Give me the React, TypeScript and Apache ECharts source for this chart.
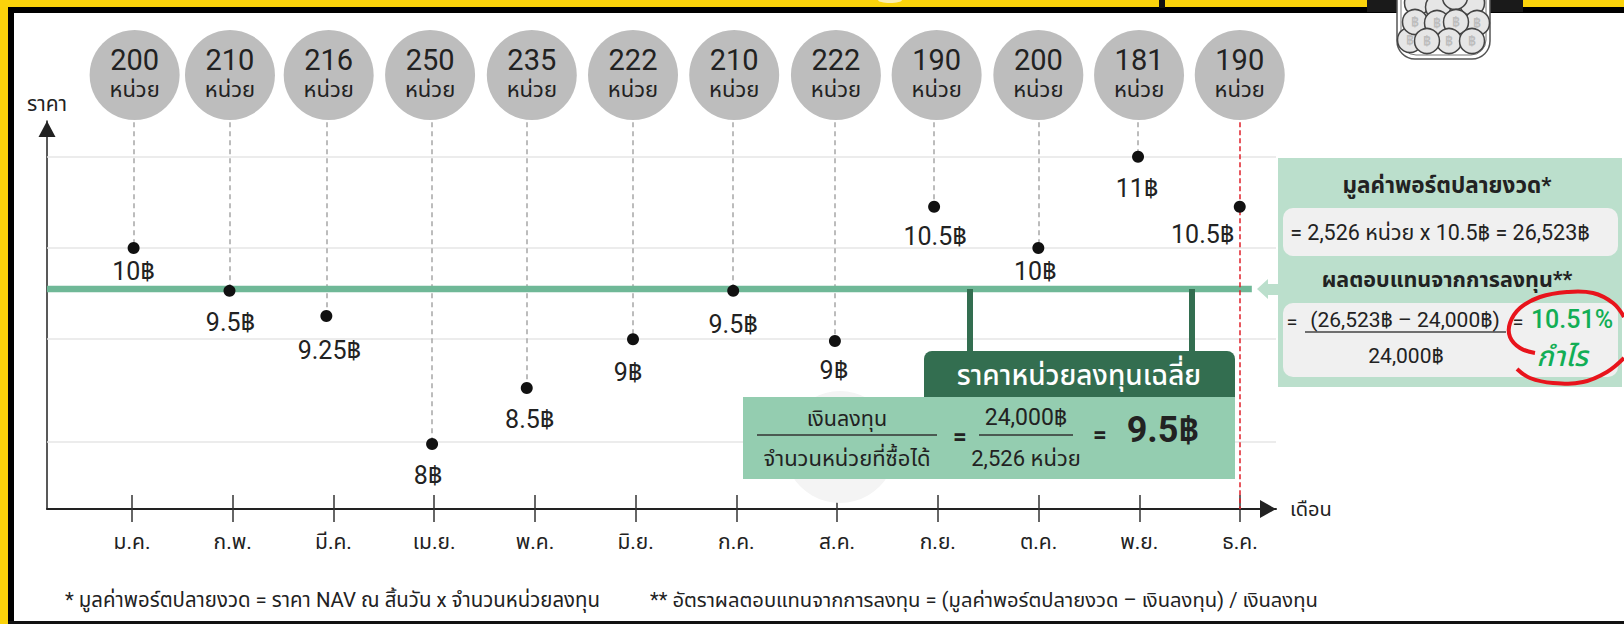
import React, { useEffect, useRef } from "react";
import * as echarts from "echarts";

const months = ["ม.ค.", "ก.พ.", "มี.ค.", "เม.ย.", "พ.ค.", "มิ.ย.", "ก.ค.", "ส.ค.", "ก.ย.", "ต.ค.", "พ.ย.", "ธ.ค."];
const units = [200, 210, 216, 250, 235, 222, 210, 222, 190, 200, 181, 190];
const priceLabels = ["10฿", "9.5฿", "9.25฿", "8฿", "8.5฿", "9฿", "9.5฿", "9฿", "10.5฿", "10฿", "11฿", "10.5฿"];
// Month position and height of each dot as drawn in the picture (its price scale is not quite even).
const dotMonth = [0.016, 0.968, 1.93, 2.98, 3.92, 4.975, 5.97, 6.98, 7.965, 9.0, 9.99, 11.0];
const dotLevel = [10, 9.53, 9.254, 7.85, 8.465, 9.0, 9.53, 8.98, 10.453, 10, 11, 10.453];
const bubbleMonth = [0.026, 0.973, 1.953, 2.96, 3.97, 4.975, 5.98, 6.99, 7.99, 9.0, 10.0, 11.0];
const gridLevels = [11, 10, 9, 7.876];
const averageLevel = 9.55;

const FONT = 'Roboto, "Noto Sans", "Noto Sans Thai", sans-serif';
const X_MIN = -0.844, X_MAX = 11.36, Y_MIN = 7.138, Y_MAX = 11.3925;
const BUBBLE_LEVEL = 11.897, DASH_TOP = 11.38, AVG_END = 11.12;
const labelOffsets = [[0, 24], [1, 32], [3, 34], [-4, 31], [3, 32], [-5, 33], [0, 34], [-1, 29], [1, 30], [-3, 24], [-1, 32], [-37, 28]];
const coins = [[1410, 40], [1417, 3], [1438, 7], [1472, 3], [1455, -3], [1415, 22], [1437, 23], [1477, 23], [1456, 22], [1449, 41], [1472, 41], [1427, 41]];

const txt = (text: string, x: number, y: number, size: number, opts: any = {}) => ({
  type: "text", z: 14, x, y,
  style: {
    text, fill: opts.fill || "#222",
    font: `${opts.style || "normal"} ${opts.weight || "normal"} ${size}px ${FONT}`,
    textAlign: opts.align || "center", textVerticalAlign: "middle",
  },
});
const rect = (x: number, y: number, width: number, height: number, fill: string, z = 10, r: any = 0) => ({
  type: "rect", z, shape: { x, y, width, height, r }, style: { fill },
});
const hline = (x1: number, x2: number, y: number, stroke: string, lineWidth = 1.6) => ({
  type: "line", z: 13, shape: { x1, y1: y, x2, y2: y }, style: { stroke, lineWidth },
});

export default function App() {
  const ref = useRef<HTMLDivElement>(null);
  useEffect(() => {
    document.body.style.margin = "0";
    const chart = echarts.init(ref.current!, null, { renderer: "svg" });
    const graphic: any[] = [
      // frame
      rect(0, 0, 1624, 7, "#fbd30b", 20),
      rect(0, 7, 1624, 6, "#000", 20),
      rect(0, 0, 8, 624, "#fbd30b", 20),
      rect(8, 7, 6, 617, "#000", 20),
      rect(8, 621, 1616, 3, "#111", 20),
      rect(1159, 0, 6, 8, "#111", 21),
      rect(1367, 0, 156, 12, "#1a1a1a", 21),
      { type: "ellipse", z: 21, shape: { cx: 890, cy: 0, rx: 12, ry: 3 }, style: { fill: "#fbeeb0" } },
      // jar
      { type: "rect", z: 22, shape: { x: 1397, y: -30, width: 93, height: 89, r: 18 }, style: { fill: "#fff", stroke: "#555", lineWidth: 1.5 } },
      { type: "rect", z: 22, shape: { x: 1401, y: -30, width: 85, height: 85, r: 15 }, style: { fill: "#fff", stroke: "#777", lineWidth: 1 } },
      ...coins.map(([cx, cy]) => ({ type: "circle", z: 23, shape: { cx, cy, r: 12.5 }, style: { fill: "#e6e6e6", stroke: "#444", lineWidth: 1.5 } })),
      ...coins.filter(([, y]) => y > 10).map(([x, y]) => ({ type: "text", z: 23, x, y, style: { text: "฿", fill: "#bdbdbd", font: `bold 14px ${FONT}`, textAlign: "center", textVerticalAlign: "middle" } })),
      // average price box
      { type: "circle", z: 1, shape: { cx: 840, cy: 447, r: 56 }, style: { fill: "#f4f4f4" } },
      rect(967, 289, 6, 64, "#336e50"),
      rect(1189, 289, 6, 64, "#336e50"),
      rect(924, 351, 311, 47, "#336e50", 10, [8, 8, 0, 0]),
      rect(743, 397, 492, 82, "#94cdb0"),
      txt("ราคาหน่วยลงทุนเฉลี่ย", 1079, 375, 28, { fill: "#fff", weight: 500 }),
      txt("เงินลงทุน", 847, 418, 21.5),
      hline(757, 937, 435, "#333"),
      txt("จำนวนหน่วยที่ซื้อได้", 847, 458, 22),
      txt("=", 960, 437, 24, { weight: "bold" }),
      txt("24,000฿", 1026, 417, 23),
      hline(979, 1073, 435, "#333"),
      txt("2,526 หน่วย", 1026, 458, 22),
      txt("=", 1100, 435, 24, { weight: "bold" }),
      txt("9.5฿", 1163, 430, 36, { weight: "bold" }),
      // result panel
      rect(1278, 158, 344, 229, "#bbdfcc"),
      { type: "polygon", z: 10, shape: { points: [[1257, 289], [1268, 279], [1268, 284], [1278, 284], [1278, 295], [1268, 295], [1268, 299]] }, style: { fill: "#bbdfcc" } },
      rect(1283, 208, 335, 48, "#f0f0f0", 11, 10),
      rect(1283, 303, 335, 74, "#f0f0f0", 11, 10),
      txt("มูลค่าพอร์ตปลายงวด*", 1447, 185, 22.5, { weight: "bold" }),
      txt("= 2,526 หน่วย x 10.5฿ = 26,523฿", 1440, 232, 21.5),
      txt("ผลตอบแทนจากการลงทุน**", 1447, 279, 21.5, { weight: "bold" }),
      txt("=", 1292, 322, 20),
      txt("(26,523฿ – 24,000฿)", 1405, 320, 21),
      hline(1305, 1506, 332, "#444"),
      txt("24,000฿", 1406, 356, 21),
      txt("=", 1518, 322, 20),
      txt("10.51%", 1572, 319, 25, { fill: "#12ae55", weight: 500 }),
      txt("กำไร", 1562, 356, 28, { fill: "#12ae55", style: "italic", weight: 500 }),
      {
        type: "polyline", z: 15,
        shape: { points: [[1535, 353], [1520, 348], [1510, 337], [1510, 323], [1520, 308], [1540, 297], [1567, 292], [1593, 293], [1613, 303], [1624, 317]], smooth: 0.4 },
        style: { stroke: "#e8141c", lineWidth: 4, fill: "none" },
      },
      {
        type: "polyline", z: 15,
        shape: { points: [[1517, 369], [1530, 378], [1553, 383], [1583, 382], [1607, 372], [1624, 358]], smooth: 0.4 },
        style: { stroke: "#e8141c", lineWidth: 4, fill: "none" },
      },
      // footnotes
      txt("* มูลค่าพอร์ตปลายงวด = ราคา NAV ณ สิ้นวัน x จำนวนหน่วยลงทุน", 65, 600, 20.4, { align: "left" }),
      txt("** อัตราผลตอบแทนจากการลงทุน = (มูลค่าพอร์ตปลายงวด – เงินลงทุน) / เงินลงทุน", 650, 600, 20.2, { align: "left" }),
    ];

    const dashData = dotMonth.slice(0, 11).map((m, i) => [{ coord: [m, DASH_TOP] }, { coord: [m, dotLevel[i]] }]);

    chart.setOption({
      animation: false,
      backgroundColor: "#fff",
      textStyle: { fontFamily: FONT },
      graphic: { elements: graphic },
      grid: [
        { left: 47, top: 121, width: 1229, height: 388 },
        { left: 132, top: 121, width: 1108, height: 374 },
      ],
      xAxis: [
        {
          type: "value", gridIndex: 0, min: X_MIN, max: X_MAX,
          splitLine: { show: false }, axisTick: { show: false }, axisLabel: { show: false },
          axisLine: { show: true, onZero: false, lineStyle: { color: "#222", width: 2 }, symbol: ["none", "triangle"], symbolSize: [18, 16], symbolOffset: [0, -8] },
          name: "เดือน", nameLocation: "end", nameGap: 14, nameTextStyle: { color: "#222", fontSize: 20, fontFamily: FONT },
        },
        {
          type: "category", gridIndex: 1, data: months, boundaryGap: false,
          axisLine: { show: false }, splitLine: { show: false },
          axisTick: { show: true, alignWithLabel: true, inside: false, length: 27, lineStyle: { color: "#333", width: 1.5 } },
          axisLabel: { show: true, interval: 0, margin: 36, color: "#222", fontSize: 21, fontFamily: FONT },
        },
      ],
      yAxis: [
        {
          type: "value", gridIndex: 0, min: Y_MIN, max: Y_MAX,
          splitLine: { show: false }, axisTick: { show: false }, axisLabel: { show: false },
          axisLine: { show: true, onZero: false, lineStyle: { color: "#222", width: 1.5 }, symbol: ["none", "triangle"], symbolSize: [17, 16], symbolOffset: [0, -8] },
          name: "ราคา", nameLocation: "end", nameGap: 7, nameTextStyle: { color: "#222", fontSize: 21, fontFamily: FONT },
        },
        { type: "value", gridIndex: 1, show: false, min: 0, max: 1 },
      ],
      series: [
        {
          type: "line", name: "grid", xAxisIndex: 0, yAxisIndex: 0, data: [], silent: true,
          markLine: {
            silent: true, symbol: "none", animation: false, z: 3, label: { show: false },
            lineStyle: { color: "#e6e6e6", width: 1.6, type: "solid" },
            data: gridLevels.map((l) => [{ coord: [X_MIN, l] }, { coord: [X_MAX, l] }]),
          },
        },
        {
          type: "scatter", name: "dashes", xAxisIndex: 0, yAxisIndex: 0, data: [], silent: true,
          markLine: {
            silent: true, symbol: "none", animation: false, z: 4, label: { show: false },
            lineStyle: { color: "#a6a6a6", width: 1.5, type: [5, 4] },
            data: dashData,
          },
        },
        {
          type: "line", name: "average", xAxisIndex: 0, yAxisIndex: 0, z: 6, symbol: "none", silent: true,
          lineStyle: { color: "#6fb897", width: 6.5 },
          data: [[X_MIN, averageLevel], [AVG_END, averageLevel]],
        },
        {
          type: "scatter", name: "december", xAxisIndex: 0, yAxisIndex: 0, data: [], silent: true,
          markLine: {
            silent: true, symbol: "none", animation: false, z: 7, label: { show: false },
            lineStyle: { color: "#e0202a", width: 1.5, type: [5, 3] },
            data: [[{ coord: [11, DASH_TOP] }, { coord: [11, Y_MIN] }]],
          },
        },
        {
          type: "scatter", name: "units", xAxisIndex: 0, yAxisIndex: 0, z: 8, clip: false, silent: true,
          symbolSize: 90, itemStyle: { color: "#bdbdbd", opacity: 1 },
          data: units.map((u, i) => [bubbleMonth[i], BUBBLE_LEVEL, u]),
          label: {
            show: true, position: "inside",
            formatter: (p: any) => `{n|${p.value[2]}}\n{u|หน่วย}`,
            rich: {
              n: { fontSize: 29, color: "#222", lineHeight: 30, fontFamily: FONT },
              u: { fontSize: 22, color: "#222", lineHeight: 30, fontFamily: FONT },
            },
          },
        },
        {
          type: "scatter", name: "price", xAxisIndex: 0, yAxisIndex: 0, z: 9, clip: false, silent: true,
          symbolSize: 12, itemStyle: { color: "#111", opacity: 1 },
          data: dotLevel.map((l, i) => ({
            value: [dotMonth[i], l],
            label: {
              show: true, position: "inside", offset: labelOffsets[i], formatter: priceLabels[i],
              color: "#222", fontSize: 25, fontFamily: FONT,
            },
          })),
        },
      ],
    });
    return () => chart.dispose();
  }, []);
  return <div ref={ref} style={{ width: 1624, height: 624 }} />;
}
